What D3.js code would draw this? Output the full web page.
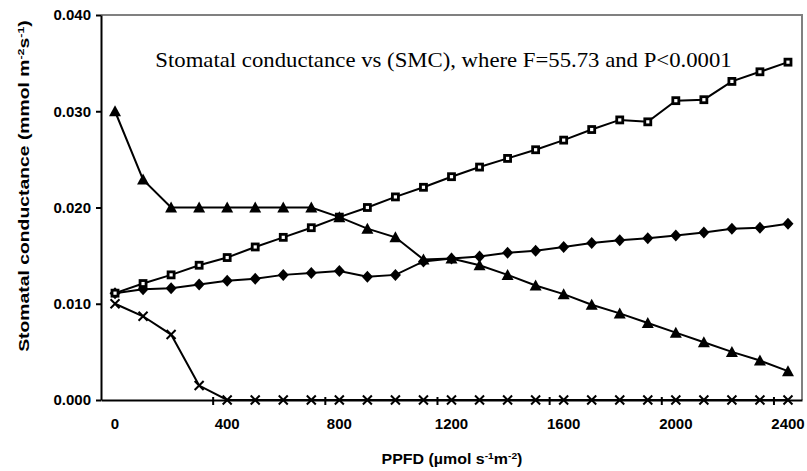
<!DOCTYPE html>
<html><head><meta charset="utf-8">
<script src="https://cdn.jsdelivr.net/npm/d3@7"></script>
<style>body{margin:0;background:#fff}svg{display:block}</style>
</head><body>
<script>
const categories = ["0","100","200","300","400","500","600","700","800","900","1000","1100","1200","1300","1400","1500","1600","1700","1800","1900","2000","2100","2200","2300","2400"];
const squareSeries = [0.0111,0.0121,0.0130,0.0140,0.0148,0.0159,0.0169,0.0179,0.0190,0.0200,0.0211,0.0221,0.0232,0.0242,0.0251,0.0260,0.0270,0.0281,0.0291,0.0289,0.0311,0.0312,0.0331,0.0341,0.0351];
const diamondSeries = [0.0111,0.0115,0.0116,0.0120,0.0124,0.0126,0.0130,0.0132,0.0134,0.0128,0.0130,0.0144,0.0147,0.0149,0.0153,0.0155,0.0159,0.0163,0.0166,0.0168,0.0171,0.0174,0.0178,0.0179,0.0183];
const triangleSeries = [0.0300,0.0229,0.0200,0.0200,0.0200,0.0200,0.0200,0.0200,0.0190,0.0178,0.0169,0.0146,0.0147,0.0140,0.0130,0.0119,0.0110,0.0099,0.0090,0.0080,0.0070,0.0060,0.0050,0.0041,0.0030];
const crossSeries = [0.0100,0.0087,0.0068,0.0015,0,0,0,0,0,0,0,0,0,0,0,0,0,0,0,0,0,0,0,0,0];
const yTicks = [0,0.010,0.020,0.030,0.040];
const xLabelEvery = 4;
const annotation = "Stomatal conductance vs (SMC), where F=55.73 and P<0.0001";

const W = 807, H = 471;
const L = 101, R = 802, T = 15, B = 400;
const sans = "'Liberation Sans', Arial, sans-serif";
const svg = d3.select("body").append("svg").attr("width", W).attr("height", H);

const x = d3.scaleBand().domain(categories).range([L, R]).padding(0);
const cx = c => x(c) + x.bandwidth() / 2;
const y = d3.scaleLinear().domain([0, 0.04]).range([B, T]);

// plot area border (top and right)
svg.append("path").attr("d", `M${L},${T}H${R}V${B}`).attr("fill","none").attr("stroke","#808080").attr("stroke-width",2);

// Y axis
const ya = svg.append("g").attr("transform", `translate(${L},0)`)
  .call(d3.axisLeft(y).tickValues(yTicks).tickFormat(d3.format(".3f")).tickSize(5).tickSizeOuter(0).tickPadding(5));
ya.select(".domain").attr("stroke","#000").attr("stroke-width",2);
ya.selectAll(".tick line").attr("stroke","#000").attr("stroke-width",2);
ya.selectAll("text").attr("font-family",sans).attr("font-weight","bold").attr("font-size","15px").attr("fill","#000");

// X axis
const labelCats = categories.filter((c,i) => i % xLabelEvery === 0);
const xa = svg.append("g").attr("transform", `translate(0,${B})`)
  .call(d3.axisBottom(x).tickValues(labelCats).tickSize(0).tickSizeOuter(0).tickPadding(18));
xa.select(".domain").attr("stroke","#000").attr("stroke-width",2);
xa.selectAll("text").attr("font-family",sans).attr("font-weight","bold").attr("font-size","15px").attr("fill","#000");
// tick marks between categories every 4
svg.append("g").selectAll("line").data(categories.filter((c,i)=> i>0 && i % xLabelEvery === 0)).join("line")
  .attr("x1", c => x(c)).attr("x2", c => x(c)).attr("y1", B-3).attr("y2", B+5)
  .attr("stroke","#000").attr("stroke-width",2);

function fitWidth(sel, target, base) {
  const w = sel.node().getBBox().width;
  sel.attr("transform", base + ` scale(${target / w},1)`);
}

// axis titles
const yt = svg.append("text").attr("x",0).attr("y",0).attr("text-anchor","middle")
  .attr("font-family",sans).attr("font-weight","bold").attr("font-size","14px")
  .call(t => {
    t.append("tspan").text("Stomatal conductance  (mmol m");
    t.append("tspan").attr("dy",-5).attr("font-size","9px").text("-2");
    t.append("tspan").attr("dy",5).text("s");
    t.append("tspan").attr("dy",-5).attr("font-size","9px").text("-1");
    t.append("tspan").attr("dy",5).text(")");
  });
fitWidth(yt, 332, "translate(29,186) rotate(-90)");

const xt = svg.append("text").attr("x", 0).attr("y", 0).attr("text-anchor","middle")
  .attr("font-family",sans).attr("font-weight","bold").attr("font-size","14px")
  .call(t => {
    t.append("tspan").text("PPFD (µmol s");
    t.append("tspan").attr("dy",-5).attr("font-size","9px").text("-1");
    t.append("tspan").attr("dy",5).text("m");
    t.append("tspan").attr("dy",-5).attr("font-size","9px").text("-2");
    t.append("tspan").attr("dy",5).text(")");
  });
fitWidth(xt, 141, "translate(452,464)");

// annotation
const an = svg.append("text").attr("x", 0).attr("y", 0).attr("text-anchor","middle")
  .attr("font-family","'Liberation Serif', 'Times New Roman', serif").attr("font-size","21px").attr("fill","#000")
  .text(annotation);
fitWidth(an, 577, "translate(443.5,67)");

const line = d3.line().x((d,i) => cx(categories[i])).y(d => y(d));
const series = [
  {vals: crossSeries, type: "cross"},
  {vals: diamondSeries, type: "diamond"},
  {vals: squareSeries, type: "square"},
  {vals: triangleSeries, type: "triangle"}
];
series.forEach(s => {
  svg.append("path").attr("d", line(s.vals)).attr("fill","none").attr("stroke","#000").attr("stroke-width",2);
  const g = svg.append("g");
  const pts = s.vals.map((v,i) => [cx(categories[i]), y(v)]);
  if (s.type === "square") {
    g.selectAll("rect").data(pts).join("rect").attr("x", d=>d[0]-3).attr("y", d=>d[1]-3)
      .attr("width",6).attr("height",6).attr("fill","#fff").attr("stroke","#000").attr("stroke-width",2.8);
  } else if (s.type === "diamond") {
    g.selectAll("path").data(pts).join("path").attr("transform", d=>`translate(${d[0]},${d[1]})`)
      .attr("d", "M0,-6L5.5,0L0,6L-5.5,0Z").attr("fill","#000");
  } else if (s.type === "triangle") {
    g.selectAll("path").data(pts).join("path").attr("transform", d=>`translate(${d[0]},${d[1]})`)
      .attr("d", "M0,-6L6,5L-6,5Z").attr("fill","#000");
  } else {
    g.selectAll("path").data(pts).join("path").attr("transform", d=>`translate(${d[0]},${d[1]})`)
      .attr("d", "M-4.5,-4.5L4.5,4.5M-4.5,4.5L4.5,-4.5").attr("stroke","#000").attr("stroke-width",2).attr("fill","none");
  }
});
</script>
</body></html>
